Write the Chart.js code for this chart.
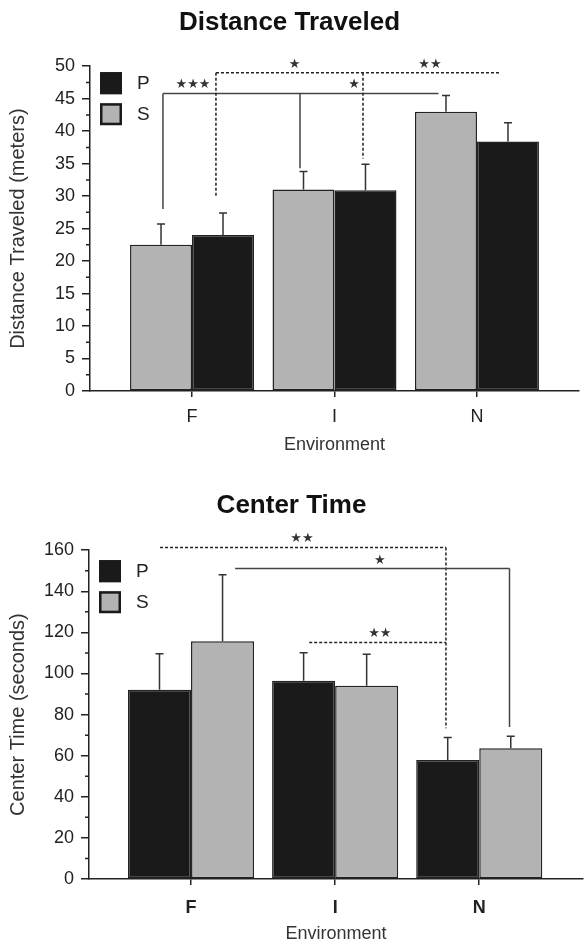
<!DOCTYPE html>
<html>
<head>
<meta charset="utf-8">
<script src="https://cdn.jsdelivr.net/npm/chart.js@4.4.0/dist/chart.umd.min.js"></script>
<style>
  body { margin: 0; background: #fff; }
  canvas { display: block; }
</style>
</head>
<body>
<canvas id="distance" width="584" height="470"></canvas>
<canvas id="center" width="584" height="475"></canvas>
<script>
const categories = ["F", "I", "N"];

// Distance Traveled (meters), mean and SEM
const distS = [22.5, 31.0, 43.0];
const distSErr = [3.2, 2.8, 2.5];
const distP = [24.0, 30.9, 38.4];
const distPErr = [3.4, 4.0, 2.9];

// Center Time (seconds), mean and SEM
const centerP = [92.1, 96.5, 57.9];
const centerPErr = [17.5, 13.6, 11.0];
const centerS = [115.7, 94.0, 63.6];
const centerSErr = [32.4, 15.4, 5.9];

// significance brackets (x in category units, y in axis units)
const distBrackets = [
  { dashed: false, y: 45.8, from: -0.204, to: 1.73, drops: [[-0.204, 28.0], [0.758, 34.3]] },
  { dashed: true, y: 49.0, from: 0.168, to: 2.16, drops: [[0.168, 29.8], [1.2, 35.8]] },
];
const distStars = [
  { x: 0.007, y: 47.1, text: "★★★" },
  { x: 1.137, y: 47.1, text: "★" },
  { x: 0.72, y: 50.3, text: "★" },
  { x: 1.67, y: 50.3, text: "★★" },
];
const centerBrackets = [
  { dashed: true, y: 161.3, from: -0.215, to: 1.769, drops: [[1.769, 73.4]] },
  { dashed: false, y: 151.1, from: 0.306, to: 2.21, drops: [[2.21, 74.0]] },
  { dashed: true, y: 115.1, from: 0.82, to: 1.769, drops: [] },
];
const centerStars = [
  { x: 0.77, y: 165.4, text: "★★" },
  { x: 1.31, y: 154.8, text: "★" },
  { x: 1.31, y: 119.2, text: "★★" },
];

const BLACK = "#1a1a1a";
const GRAY = "#b3b3b3";
const INK = "#222";

Chart.defaults.font.family = "'Liberation Sans', Arial, Helvetica, sans-serif";

function toPoints(vals) {
  return vals.map((v, i) => ({ x: i, y: v }));
}

// error bars, brackets, stars, minor ticks and the inset legend
function annotations(cfg) {
  return {
    id: "annot",
    afterDatasetsDraw(chart) {
      const ctx = chart.ctx;
      const xs = chart.scales.x;
      const ys = chart.scales.y;
      ctx.save();
      ctx.strokeStyle = "#333";
      ctx.lineWidth = 1.5;
      chart.data.datasets.forEach((ds, di) => {
        chart.getDatasetMeta(di).data.forEach((bar, i) => {
          const top = ys.getPixelForValue(ds.data[i].y + ds.err[i]);
          ctx.beginPath();
          ctx.moveTo(bar.x, bar.y);
          ctx.lineTo(bar.x, top);
          ctx.moveTo(bar.x - 4, top);
          ctx.lineTo(bar.x + 4, top);
          ctx.stroke();
        });
      });
      cfg.brackets.forEach(b => {
        ctx.setLineDash(b.dashed ? [3, 2] : []);
        ctx.strokeStyle = b.dashed ? "#222" : "#444";
        const yy = ys.getPixelForValue(b.y);
        ctx.beginPath();
        ctx.moveTo(xs.getPixelForValue(b.from), yy);
        ctx.lineTo(xs.getPixelForValue(b.to), yy);
        b.drops.forEach(([dx, dv]) => {
          const px = xs.getPixelForValue(dx);
          ctx.moveTo(px, yy);
          ctx.lineTo(px, ys.getPixelForValue(dv));
        });
        ctx.stroke();
      });
      ctx.setLineDash([]);
      ctx.fillStyle = "#333";
      ctx.font = "13px 'DejaVu Sans'";
      ctx.textAlign = "center";
      ctx.textBaseline = "middle";
      cfg.stars.forEach(s => {
        ctx.fillText(s.text, xs.getPixelForValue(s.x), ys.getPixelForValue(s.y));
      });
      ctx.restore();
    },
    afterDraw(chart) {
      const ctx = chart.ctx;
      const ys = chart.scales.y;
      const left = chart.chartArea.left;
      ctx.save();
      ctx.strokeStyle = INK;
      ctx.lineWidth = 1.5;
      ctx.beginPath();
      for (let v = cfg.minor; v < ys.max; v += cfg.minor) {
        if (Math.abs(v / cfg.major - Math.round(v / cfg.major)) < 1e-6) continue;
        const py = ys.getPixelForValue(v);
        ctx.moveTo(left - 4, py);
        ctx.lineTo(left, py);
      }
      ctx.stroke();

      const bx = left + 10;
      let by = chart.chartArea.top + cfg.legendTop;
      ctx.font = "19px 'Liberation Sans', Arial, sans-serif";
      ctx.textAlign = "left";
      ctx.textBaseline = "middle";
      cfg.legend.forEach(lab => {
        const ds = chart.data.datasets.find(d => d.label === lab);
        ctx.fillStyle = ds.backgroundColor;
        ctx.fillRect(bx, by, 22, 22);
        ctx.lineWidth = 2.5;
        ctx.strokeStyle = "#1a1a1a";
        ctx.strokeRect(bx + 1.25, by + 1.25, 19.5, 19.5);
        ctx.fillStyle = "#222";
        ctx.fillText(lab, bx + 37, by + 12);
        by += 31;
      });
      ctx.restore();
    },
  };
}

function makeChart(id, o) {
  return new Chart(document.getElementById(id), {
    type: "bar",
    data: {
      datasets: o.series.map(s => ({
        label: s.label,
        data: toPoints(s.values),
        err: s.err,
        backgroundColor: s.color,
        borderColor: "#222",
        borderWidth: 1.5,
        borderSkipped: false,
        categoryPercentage: o.catPct,
        barPercentage: 1.0,
      })),
    },
    options: {
      responsive: false,
      animation: false,
      events: [],
      layout: { padding: { left: 0, right: o.padRight, top: 0, bottom: 0 } },
      plugins: {
        legend: { display: false },
        tooltip: { enabled: false },
        title: {
          display: true,
          text: o.title,
          color: "#111",
          font: { size: 26, weight: "bold" },
          padding: { top: o.titleTop, bottom: o.titleBottom },
        },
      },
      scales: {
        x: {
          type: "linear",
          min: o.xMin,
          max: o.xMax,
          offset: false,
          afterBuildTicks: s => { s.ticks = categories.map((c, i) => ({ value: i })); },
          afterFit: s => { s.height = o.xHeight; },
          grid: { offset: false, drawOnChartArea: false, tickLength: 6, color: INK, lineWidth: 1.5 },
          border: { color: INK, width: 1.5 },
          ticks: {
            callback: v => categories[v],
            color: INK,
            font: { size: 18, weight: o.xBold ? "bold" : "normal" },
            padding: o.xTickPad,
            maxRotation: 0,
            autoSkip: false,
          },
          title: {
            display: true,
            text: "Environment",
            color: "#333",
            font: { size: 18 },
            padding: { top: 0, bottom: o.xTitlePad },
          },
        },
        y: {
          min: 0,
          max: o.yMax,
          afterFit: s => { s.width = o.yWidth; },
          grid: { drawOnChartArea: false, tickLength: 8, color: INK, lineWidth: 1.5 },
          border: { color: INK, width: 1.5 },
          ticks: { stepSize: o.major, color: INK, font: { size: 18 }, padding: 7 },
          title: {
            display: true,
            text: o.yTitle,
            color: "#333",
            font: { size: 20 },
            padding: { top: 6, bottom: 0 },
          },
        },
      },
    },
    plugins: [annotations({
      brackets: o.brackets,
      stars: o.stars,
      minor: o.minor,
      major: o.major,
      legend: ["P", "S"],
      legendTop: o.legendTop,
    })],
  });
}

makeChart("distance", {
  title: "Distance Traveled",
  yTitle: "Distance Traveled (meters)",
  series: [
    { label: "S", values: distS, err: distSErr, color: GRAY },
    { label: "P", values: distP, err: distPErr, color: BLACK },
  ],
  yMax: 50, major: 5, minor: 2.5,
  xMin: -0.716, xMax: 2.716,
  catPct: 0.87,
  padRight: 5,
  titleTop: 7, titleBottom: 28,
  xHeight: 79, xTickPad: 9, xTitlePad: 14, xBold: false,
  yWidth: 90,
  legendTop: 6,
  brackets: distBrackets,
  stars: distStars,
});

makeChart("center", {
  title: "Center Time",
  yTitle: "Center Time (seconds)",
  series: [
    { label: "P", values: centerP, err: centerPErr, color: BLACK },
    { label: "S", values: centerS, err: centerSErr, color: GRAY },
  ],
  yMax: 160, major: 20, minor: 10,
  xMin: -0.708, xMax: 2.72,
  catPct: 0.875,
  padRight: 1,
  titleTop: 20, titleBottom: 29,
  xHeight: 66, xTickPad: 12, xTitlePad: 0, xBold: true,
  yWidth: 89,
  legendTop: 10,
  brackets: centerBrackets,
  stars: centerStars,
});
</script>
</body>
</html>
